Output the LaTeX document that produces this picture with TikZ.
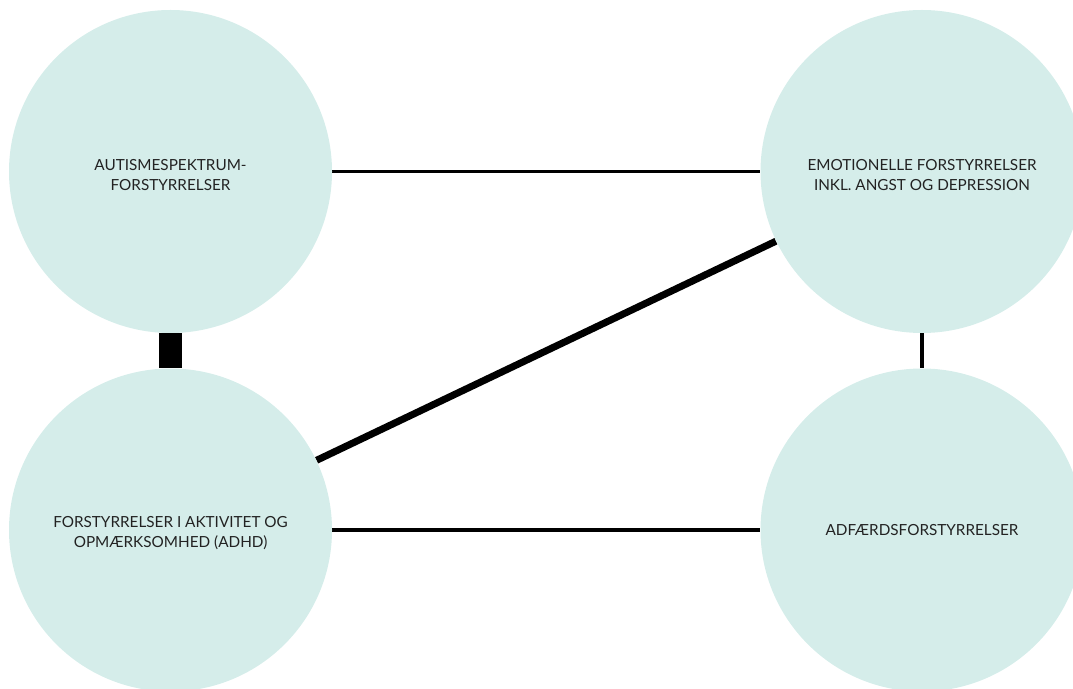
\documentclass[tikz,border=0pt]{standalone}
\usepackage{fontspec}
\setmainfont{Lato}
\usetikzlibrary{backgrounds}
\definecolor{circlefill}{RGB}{213,237,234}
\definecolor{labeltext}{RGB}{34,34,34}

\begin{document}
\begin{tikzpicture}[
    disorder/.style={circle, fill=circlefill, minimum size=6.46cm, inner sep=0pt},
    caption/.style={align=center, inner sep=0pt, font=\fontsize{8.7}{11.4}\selectfont, text=labeltext},
    weaklink/.style={line width=1.9pt, black},
    midlink/.style={line width=4pt, black},
    stronglink/.style={line width=12.8pt, black}
]
\useasboundingbox (0,0) rectangle (21.46,-13.78);

\node[disorder] (autism) at (3.41,-3.43) {};
\node[disorder] (emotion) at (18.44,-3.43) {};
\node[disorder] (adhd) at (3.41,-10.6) {};
\node[disorder] (conduct) at (18.44,-10.6) {};

\node[caption, yshift=-0.08cm] (autismtext) at (autism) {AUTISMESPEKTRUM-\\FORSTYRRELSER};
\node[caption, yshift=-0.08cm] (emotiontext) at (emotion) {EMOTIONELLE FORSTYRRELSER\\INKL. ANGST OG DEPRESSION};
\node[caption, yshift=-0.06cm] (adhdtext) at (adhd) {FORSTYRRELSER I AKTIVITET OG\\OPMÆRKSOMHED (ADHD)};
\node[caption] (conducttext) at (conduct) {ADFÆRDSFORSTYRRELSER};

\begin{scope}[on background layer]
\draw[weaklink] (autism) -- (emotion);
\draw[weaklink] (adhd) -- (conduct);
\draw[weaklink] (emotion) -- (conduct);
\draw[stronglink] (autism) -- (adhd);
\draw[midlink] (adhd) -- (emotion);
\end{scope}

\end{tikzpicture}
\end{document}
